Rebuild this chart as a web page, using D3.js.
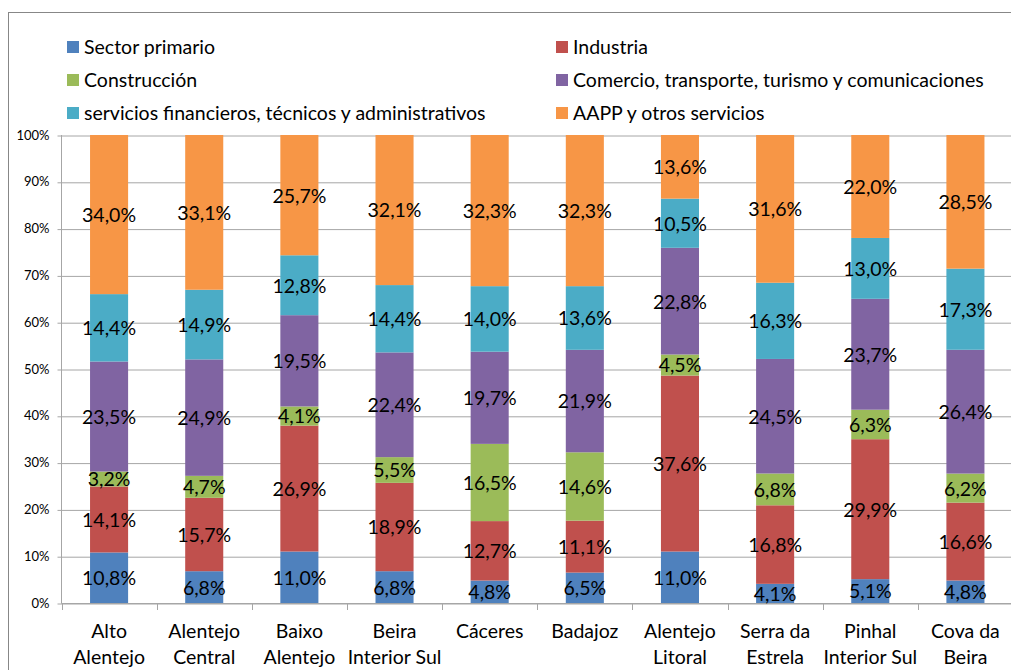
<!DOCTYPE html>
<html>
<head>
<meta charset="utf-8">
<script src="https://cdn.jsdelivr.net/npm/d3@7/dist/d3.min.js"></script>
<style>
  html, body { margin: 0; padding: 0; background: #fff; }
  svg { display: block; font-family: Lato, "Open Sans", sans-serif; }
</style>
</head>
<body>
<svg id="chart" width="1011" height="670"></svg>
<script>
// Regions (two-line labels on the category axis)
const categories = [
  "Alto Alentejo", "Alentejo Central", "Baixo Alentejo", "Beira Interior Sul",
  "Cáceres", "Badajoz", "Alentejo Litoral", "Serra da Estrela",
  "Pinhal Interior Sul", "Cova da Beira"
];
const categoryLines = [
  ["Alto", "Alentejo"], ["Alentejo", "Central"], ["Baixo", "Alentejo"],
  ["Beira", "Interior Sul"], ["Cáceres"], ["Badajoz"], ["Alentejo", "Litoral"],
  ["Serra da", "Estrela"], ["Pinhal", "Interior Sul"], ["Cova da", "Beira"]
];

// Share of employment by sector (%), one array per sector, ordered as categories
const seriesNames = [
  "Sector primario",
  "Industria",
  "Construcción",
  "Comercio, transporte, turismo y comunicaciones",
  "servicios financieros, técnicos y administrativos",
  "AAPP y otros servicios"
];
const sectorPrimario = [10.8, 6.8, 11.0, 6.8, 4.8, 6.5, 11.0, 4.1, 5.1, 4.8];
const industria      = [14.1, 15.7, 26.9, 18.9, 12.7, 11.1, 37.6, 16.8, 29.9, 16.6];
const construccion   = [3.2, 4.7, 4.1, 5.5, 16.5, 14.6, 4.5, 6.8, 6.3, 6.2];
const comercio       = [23.5, 24.9, 19.5, 22.4, 19.7, 21.9, 22.8, 24.5, 23.7, 26.4];
const servFinancieros= [14.4, 14.9, 12.8, 14.4, 14.0, 13.6, 10.5, 16.3, 13.0, 17.3];
const aapp           = [34.0, 33.1, 25.7, 32.1, 32.3, 32.3, 13.6, 31.6, 22.0, 28.5];
const seriesValues = [sectorPrimario, industria, construccion, comercio, servFinancieros, aapp];

const colors = ["#4F81BD", "#C0504D", "#9BBB59", "#8064A2", "#4BACC6", "#F79646"];
const yTicks = [0, 0.1, 0.2, 0.3, 0.4, 0.5, 0.6, 0.7, 0.8, 0.9, 1.0];

// Build rows for the stack layout
const keys = seriesNames;
const rows = categories.map((c, i) => {
  const r = { category: c, index: i };
  keys.forEach((k, s) => { r[k] = seriesValues[s][i]; });
  return r;
});
const stacked = d3.stack().keys(keys).offset(d3.stackOffsetExpand)(rows);

const svg = d3.select("#chart");
const labelSize = 19.5;

// Outer chart frame
svg.append("rect")
  .attr("x", 8.5).attr("y", 12.5)
  .attr("width", 1200).attr("height", 800)
  .attr("fill", "none").attr("stroke", "#878787").attr("stroke-width", 1);

const plot = { left: 61.5, right: 61.5 + 951.5, top: 135, bottom: 603 };

const x = d3.scaleBand()
  .domain(categories)
  .range([plot.left, plot.right])
  .paddingInner(0.6)
  .paddingOuter(0.3);

const y = d3.scaleLinear().domain([0, 1]).range([plot.bottom, plot.top]);

// Horizontal gridlines with left ticks
const yAxis = d3.axisLeft(y)
  .tickValues(yTicks)
  .tickFormat(d3.format(".0%"))
  .tickSize(-(plot.right - plot.left))
  .tickPadding(12);
const gy = svg.append("g")
  .attr("transform", `translate(${plot.left},0)`)
  .call(yAxis);
gy.select(".domain").remove();
gy.selectAll(".tick line")
  .attr("stroke", "#A6A6A6")
  .attr("x1", -4)
  .attr("transform", "translate(0,0.5)");
gy.selectAll(".tick text")
  .attr("font-size", 13)
  .attr("font-family", "Lato, sans-serif")
  .attr("fill", "#000");

// Vertical axis line
svg.append("line")
  .attr("x1", plot.left).attr("x2", plot.left)
  .attr("y1", plot.top).attr("y2", plot.bottom + 0.5)
  .attr("stroke", "#A6A6A6");

// Bars
const layer = svg.append("g").selectAll("g")
  .data(stacked)
  .join("g")
  .attr("fill", (d, i) => colors[i]);

layer.selectAll("rect")
  .data(d => d)
  .join("rect")
  .attr("x", d => x(d.data.category))
  .attr("width", x.bandwidth())
  .attr("y", d => y(d[1]))
  .attr("height", d => y(d[0]) - y(d[1]));

// Category axis along the bottom
const xAxis = d3.axisBottom(x).tickSize(0).tickFormat("");
const gx = svg.append("g")
  .attr("transform", `translate(0,${plot.bottom + 0.5})`)
  .call(xAxis);
gx.select(".domain").attr("stroke", "#A6A6A6").attr("d", `M${plot.left},0H${plot.right}`);

// Tick marks on category boundaries
const boundaries = d3.range(categories.length + 1).map(i => plot.left + i * x.step());
svg.append("g").selectAll("line")
  .data(boundaries)
  .join("line")
  .attr("x1", d => Math.round(d) + 0.5).attr("x2", d => Math.round(d) + 0.5)
  .attr("y1", plot.bottom).attr("y2", plot.bottom + 7)
  .attr("stroke", "#A6A6A6");

// Category labels
const catLabels = svg.append("g")
  .attr("font-size", labelSize)
  .attr("fill", "#000")
  .attr("text-anchor", "middle");
categories.forEach((c, i) => {
  const cx = x(c) + x.bandwidth() / 2;
  categoryLines[i].forEach((line, j) => {
    catLabels.append("text")
      .attr("x", cx)
      .attr("y", 638 + j * 26)
      .text(line);
  });
});

// Value labels centred in each segment
const fmt = v => v.toFixed(1).replace(".", ",") + "%";
stacked.forEach((s, si) => {
  svg.append("g")
    .attr("font-size", labelSize)
    .attr("fill", "#000")
    .attr("text-anchor", "middle")
    .selectAll("text")
    .data(s)
    .join("text")
    .attr("x", d => x(d.data.category) + x.bandwidth() / 2)
    .attr("y", d => (y(d[0]) + y(d[1])) / 2)
    .attr("dy", "0.38em")
    .text(d => fmt(d.data[s.key]));
});

// Legend: two columns, three rows
const legendCols = [67, 556];
const legendRows = [47, 80, 113];
const legend = svg.append("g");
seriesNames.forEach((name, i) => {
  const col = i % 2, row = Math.floor(i / 2);
  const g = legend.append("g")
    .attr("transform", `translate(${legendCols[col]},${legendRows[row]})`);
  g.append("rect")
    .attr("x", 0).attr("y", -6)
    .attr("width", 12).attr("height", 12)
    .attr("fill", colors[i]);
  g.append("text")
    .attr("x", 17).attr("y", 0)
    .attr("dy", "0.36em")
    .attr("font-size", labelSize)
    .attr("fill", "#000")
    .text(name);
});
</script>
</body>
</html>
